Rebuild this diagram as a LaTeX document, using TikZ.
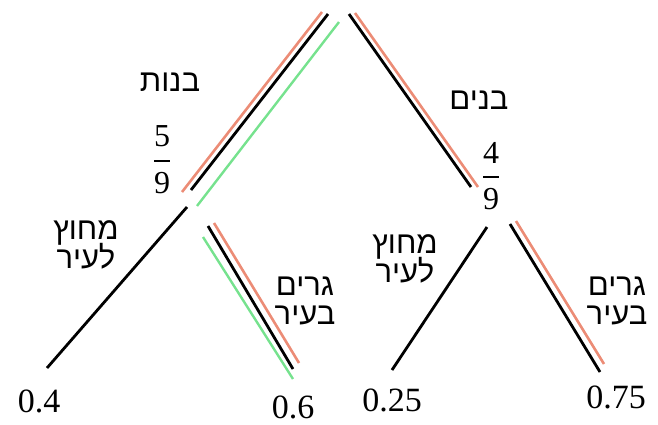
\documentclass[tikz,border=0pt]{standalone}
\usepackage{fontspec}
\setmainfont{Liberation Serif}
\newfontfamily\hebfont[Script=Hebrew]{Liberation Sans}
\TeXXeTstate=1
\usetikzlibrary{calc}
\definecolor{salmon}{RGB}{236,140,118}
\definecolor{lgreen}{RGB}{118,226,142}
\tikzset{
  branch/.style={line width=2.8pt, black},
  redline/.style={line width=2.6pt, salmon},
  greenline/.style={line width=2.4pt, lgreen},
  heb/.style={font=\hebfont\fontsize{31}{33}\selectfont, inner sep=0pt, align=center},
  num/.style={font=\fontsize{34}{36}\selectfont, inner sep=0pt},
  frac/.style={font=\fontsize{32}{33}\selectfont, inner sep=0pt}
}
\newcommand{\fracstack}[2]{\vbox{\offinterlineskip
  \hbox to 20pt{\hss#1\hss}\kern13pt
  \hbox to 20pt{\hss\vrule width 16pt height 1.5pt\hss}\kern11pt
  \hbox to 20pt{\hss#2\hss}}}
\begin{document}
\begin{tikzpicture}[x=1pt,y=1pt]
\useasboundingbox (0,0) rectangle (658,-424);
% branch endpoints
\coordinate (tl) at (328,-14);
\coordinate (lb) at (191,-190);
\coordinate (tr) at (349,-14);
\coordinate (rb) at (471,-187);
\coordinate (llt) at (187,-207);
\coordinate (llb) at (47,-368);
\coordinate (lrt) at (208,-226);
\coordinate (lrb) at (293,-369);
\coordinate (rlt) at (487,-227);
\coordinate (rlb) at (392,-370);
\coordinate (rrt) at (510,-224);
\coordinate (rrb) at (600,-372);
% highlighted paths
\draw[redline] ($(tl)+(-6,2)$) -- ($(lb)+(-9,-2)$);
\draw[greenline] ($(tl)+(11,-8)$) -- ($(lb)+(6,-16)$);
\draw[redline] ($(tr)+(6,1)$) -- ($(rb)+(7,0)$);
\draw[redline] ($(lrt)+(6,3)$) -- ($(lrb)+(6,6)$);
\draw[greenline] ($(lrt)+(-5,-11)$) -- ($(lrb)+(0,-10)$);
\draw[redline] ($(rrt)+(6,3)$) -- ($(rrb)+(4,8)$);
% branches
\draw[branch] (tl) -- (lb);
\draw[branch] (tr) -- (rb);
\draw[branch] (llt) -- (llb);
\draw[branch] (lrt) -- (lrb);
\draw[branch] (rlt) -- (rlb);
\draw[branch] (rrt) -- (rrb);
% labels
\node[heb] (girls) at (170,-82) {\beginR בנות\endR};
\node[frac] (fg) at (162,-160) {\fracstack{5}{9}};
\node[heb] (boys) at (479,-100) {\beginR בנים\endR};
\node[frac] (fb) at (491,-176) {\fracstack{4}{9}};
\node[heb] (out1) at (86,-245) {\beginR מחוץ\endR\\[-4pt]\beginR לעיר\endR};
\node[heb] (out2) at (405,-259) {\beginR מחוץ\endR\\[-4pt]\beginR לעיר\endR};
\node[heb] (in1) at (305,-301) {\beginR גרים\endR\\[-4pt]\beginR בעיר\endR};
\node[heb] (in2) at (617,-301) {\beginR גרים\endR\\[-4pt]\beginR בעיר\endR};
\node[num] (n1) at (39,-401) {0.4};
\node[num] (n2) at (293,-407) {0.6};
\node[num] (n3) at (392,-400) {0.25};
\node[num] (n4) at (616,-397) {0.75};
\end{tikzpicture}
\end{document}
